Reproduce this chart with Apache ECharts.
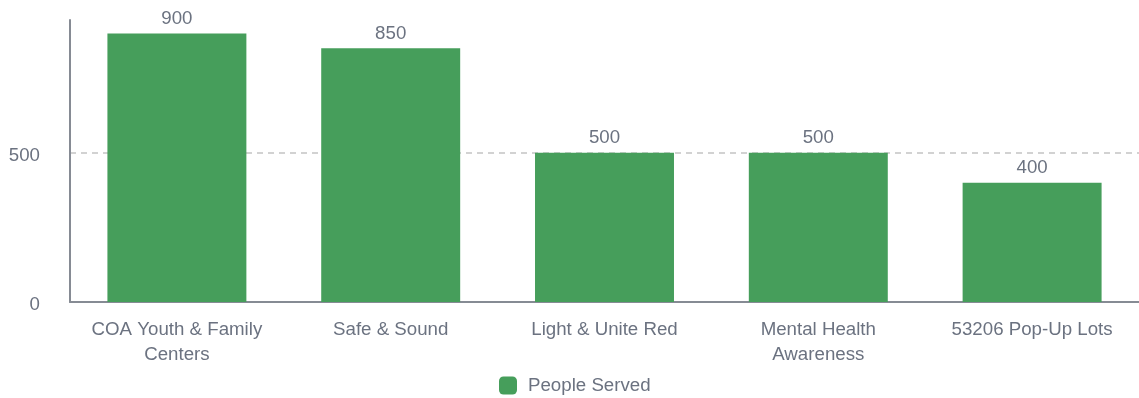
<!DOCTYPE html>
<html>
<head>
<meta charset="utf-8">
<script src="https://cdn.jsdelivr.net/npm/echarts@6/dist/echarts.min.js"></script>
<style>
  html, body { margin: 0; padding: 0; background: #ffffff; }
  #chart { width: 1139px; height: 398px; }
</style>
</head>
<body>
<div id="chart"></div>
<script>
// Programs and the number of people each one served
const categories = [
  'COA Youth & Family Centers',
  'Safe & Sound',
  'Light & Unite Red',
  'Mental Health Awareness',
  '53206 Pop-Up Lots'
];
const peopleServed = [900, 850, 500, 500, 400];
const seriesName = 'People Served';

const textColor = '#6b7280';
const fontFamily = '"Liberation Sans", Arial, Helvetica, sans-serif';
const fontSize = 18.7;
const labelMaxWidth = 195;

// Word-wrap a category name so no line is wider than maxWidth (no trailing spaces)
const measureCtx = document.createElement('canvas').getContext('2d');
measureCtx.font = fontSize + 'px ' + fontFamily;
function wrapLabel(text, maxWidth) {
  const words = text.split(' ');
  const lines = [];
  let line = '';
  words.forEach(function (w) {
    const test = line ? line + ' ' + w : w;
    if (line && measureCtx.measureText(test).width > maxWidth) {
      lines.push(line);
      line = w;
    } else {
      line = test;
    }
  });
  if (line) lines.push(line);
  return lines.join('\n');
}

const chart = echarts.init(document.getElementById('chart'), null, { renderer: 'canvas' });

chart.setOption({
  animation: false,
  textStyle: { fontFamily: fontFamily },
  grid: { left: 70, right: 0, top: 20, bottom: 96, containLabel: false },
  legend: {
    bottom: -2,
    left: 494,
    itemWidth: 18,
    itemHeight: 18,
    icon: 'roundRect',
    textStyle: { color: textColor, fontSize: fontSize, fontFamily: fontFamily, padding: [0, 0, 0, 6] },
    data: [seriesName]
  },
  xAxis: {
    type: 'category',
    data: categories,
    axisLine: { show: true, lineStyle: { color: '#868b94', width: 2 } },
    axisTick: { show: false },
    axisLabel: {
      interval: 0,
      color: textColor,
      fontSize: fontSize,
      lineHeight: 25,
      margin: 15,
      fontFamily: fontFamily,
      formatter: function (v) { return wrapLabel(v, labelMaxWidth); }
    }
  },
  yAxis: {
    type: 'value',
    min: 0,
    max: 945,
    interval: 500,
    axisLine: { show: true, lineStyle: { color: '#868b94', width: 2 } },
    axisTick: { show: false },
    axisLabel: {
      color: textColor,
      fontSize: fontSize,
      margin: 30,
      showMaxLabel: false,
      fontFamily: fontFamily,
      formatter: '{v|{value}}',
      rich: {
        v: { color: textColor, fontSize: fontSize, fontFamily: fontFamily, padding: [6, 0, 0, 0] }
      }
    },
    splitLine: {
      show: true,
      showMinLine: false,
      showMaxLine: false,
      lineStyle: { color: '#c4c4c4', type: [6, 5], width: 1.5 }
    }
  },
  series: [{
    name: seriesName,
    type: 'bar',
    data: peopleServed,
    barWidth: '65%',
    itemStyle: { color: '#469e5b' },
    label: {
      show: true,
      position: 'top',
      distance: 5,
      color: textColor,
      fontSize: fontSize,
      fontFamily: fontFamily
    }
  }]
});
</script>
</body>
</html>
